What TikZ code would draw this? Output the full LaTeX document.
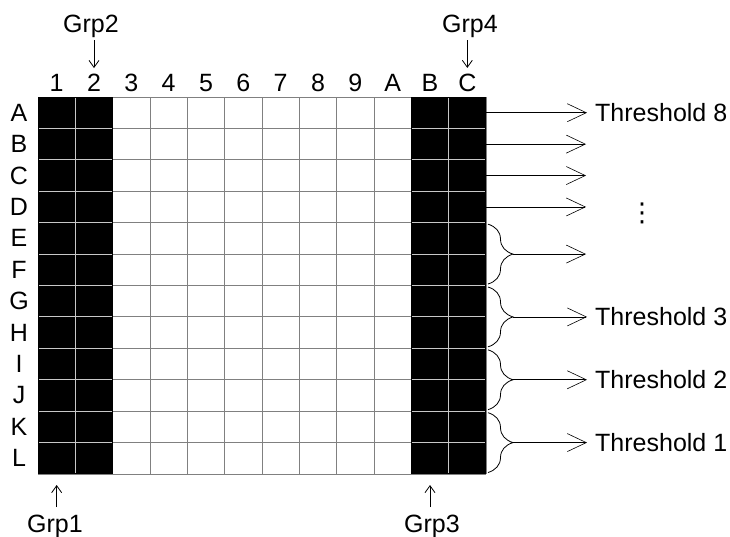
\documentclass[tikz,border=0pt]{standalone}
\usepackage{fontspec}
\setmainfont{Liberation Sans}
\newfontfamily\dotsfont{DejaVu Sans}
\usepackage{tikz}
\usetikzlibrary{arrows.meta, positioning, decorations.pathreplacing}
\definecolor{gridgray}{HTML}{808080}
\definecolor{sepgray}{HTML}{C8C8C8}

\begin{document}
\begin{tikzpicture}[x=1pt, y=-1pt, font=\fontsize{25}{30}\selectfont,
    lbl/.style={inner sep=0pt},
    gridline/.style={gridgray, line width=0.9pt},
    sepline/.style={sepgray, line width=0.9pt},
    thresharrow/.style={black, line width=0.6pt, -{Straight Barb[length=19pt, width=18pt, line width=0.6pt]}},
    grparrow/.style={black, line width=0.8pt, -{Straight Barb[length=7pt, width=10pt]}},
    bracepath/.style={black, line width=0.8pt, decorate, decoration={brace, amplitude=25pt}}]
    \useasboundingbox (0,0) rectangle (730,536);

    % plate
    \foreach \i in {0,...,12} {
        \draw[gridline] ({38+\i*37.333},97) -- ({38+\i*37.333},474);
        \draw[gridline] (38,{97+\i*31.417}) -- (486,{97+\i*31.417});
    }
    \fill[black] (38,97) rectangle (112.67,474);
    \fill[black] (411.33,97) rectangle (486,474);
    \foreach \i in {1,...,11} {
        \draw[sepline] (39,{97+\i*31.417}) -- (111.67,{97+\i*31.417});
        \draw[sepline] (412.33,{97+\i*31.417}) -- (485,{97+\i*31.417});
    }
    \draw[sepline] (75.33,98) -- (75.33,473);
    \draw[sepline] (448.67,98) -- (448.67,473);

    % column and row labels
    \foreach \t [count=\c] in {1,2,3,4,5,6,7,8,9,A,B,C}
        \node[lbl] (col\c) at ({38+(\c-0.5)*37.333},83) {\t};
    \foreach \t [count=\r] in {A,B,C,D,E,F,G,H,I,J,K,L} {
        \node[lbl] (row\r) at (19,{97+(\r-0.5)*31.417}) {\t};
        \coordinate (e\r) at (486,{97+(\r-0.5)*31.417});
    }

    % groups
    \node[lbl] (grp2) at (91,26) {Grp2};
    \node[lbl] (grp4) at (470,26) {Grp4};
    \node[lbl] (grp1) at (55,526) {Grp1};
    \node[lbl] (grp3) at (432,526) {Grp3};
    \coordinate (b1) at ({38+0.5*37.333},474);
    \coordinate (b11) at ({38+10.5*37.333},474);
    \draw[grparrow, shorten <=14pt, shorten >=6pt] (grp2 -| col2) -- (col2);
    \draw[grparrow, shorten <=14pt, shorten >=6pt] (grp4 -| col12) -- (col12);
    \draw[grparrow, shorten <=19pt, shorten >=11pt] (grp1 -| b1) -- (b1);
    \draw[grparrow, shorten <=19pt, shorten >=11pt] (grp3 -| b11) -- (b11);

    % thresholds
    \node[lbl, anchor=west] (th8) at (595,{97+0.5*31.417}) {Threshold 8};
    \draw[thresharrow, shorten >=8pt] (e1) -- (th8.west);
    \foreach \r in {2,3,4} {
        \coordinate (t\r) at (586,{97+(\r-0.5)*31.417});
        \draw[thresharrow] (e\r) -- (t\r);
    }
    \node[lbl, font=\dotsfont\fontsize{26}{30}\selectfont] (vdots) at (642,213) {⋮};

    \foreach \k in {1,...,4} {
        \coordinate (bt\k) at (488,{97+(2*\k+2)*31.417+1.5});
        \coordinate (bb\k) at (488,{97+(2*\k+4)*31.417-1.5});
        \coordinate (bm\k) at (513,{97+(2*\k+3)*31.417});
        \draw[bracepath] (bt\k) -- (bb\k);
    }
    \coordinate (t5) at (586,{97+5*31.417});
    \draw[thresharrow] (bm1) -- (t5);
    \node[lbl, anchor=west] (th3) at (595,{97+7*31.417}) {Threshold 3};
    \node[lbl, anchor=west] (th2) at (595,{97+9*31.417}) {Threshold 2};
    \node[lbl, anchor=west] (th1) at (595,{97+11*31.417}) {Threshold 1};
    \draw[thresharrow, shorten >=8pt] (bm2) -- (th3.west);
    \draw[thresharrow, shorten >=8pt] (bm3) -- (th2.west);
    \draw[thresharrow, shorten >=8pt] (bm4) -- (th1.west);
\end{tikzpicture}
\end{document}
